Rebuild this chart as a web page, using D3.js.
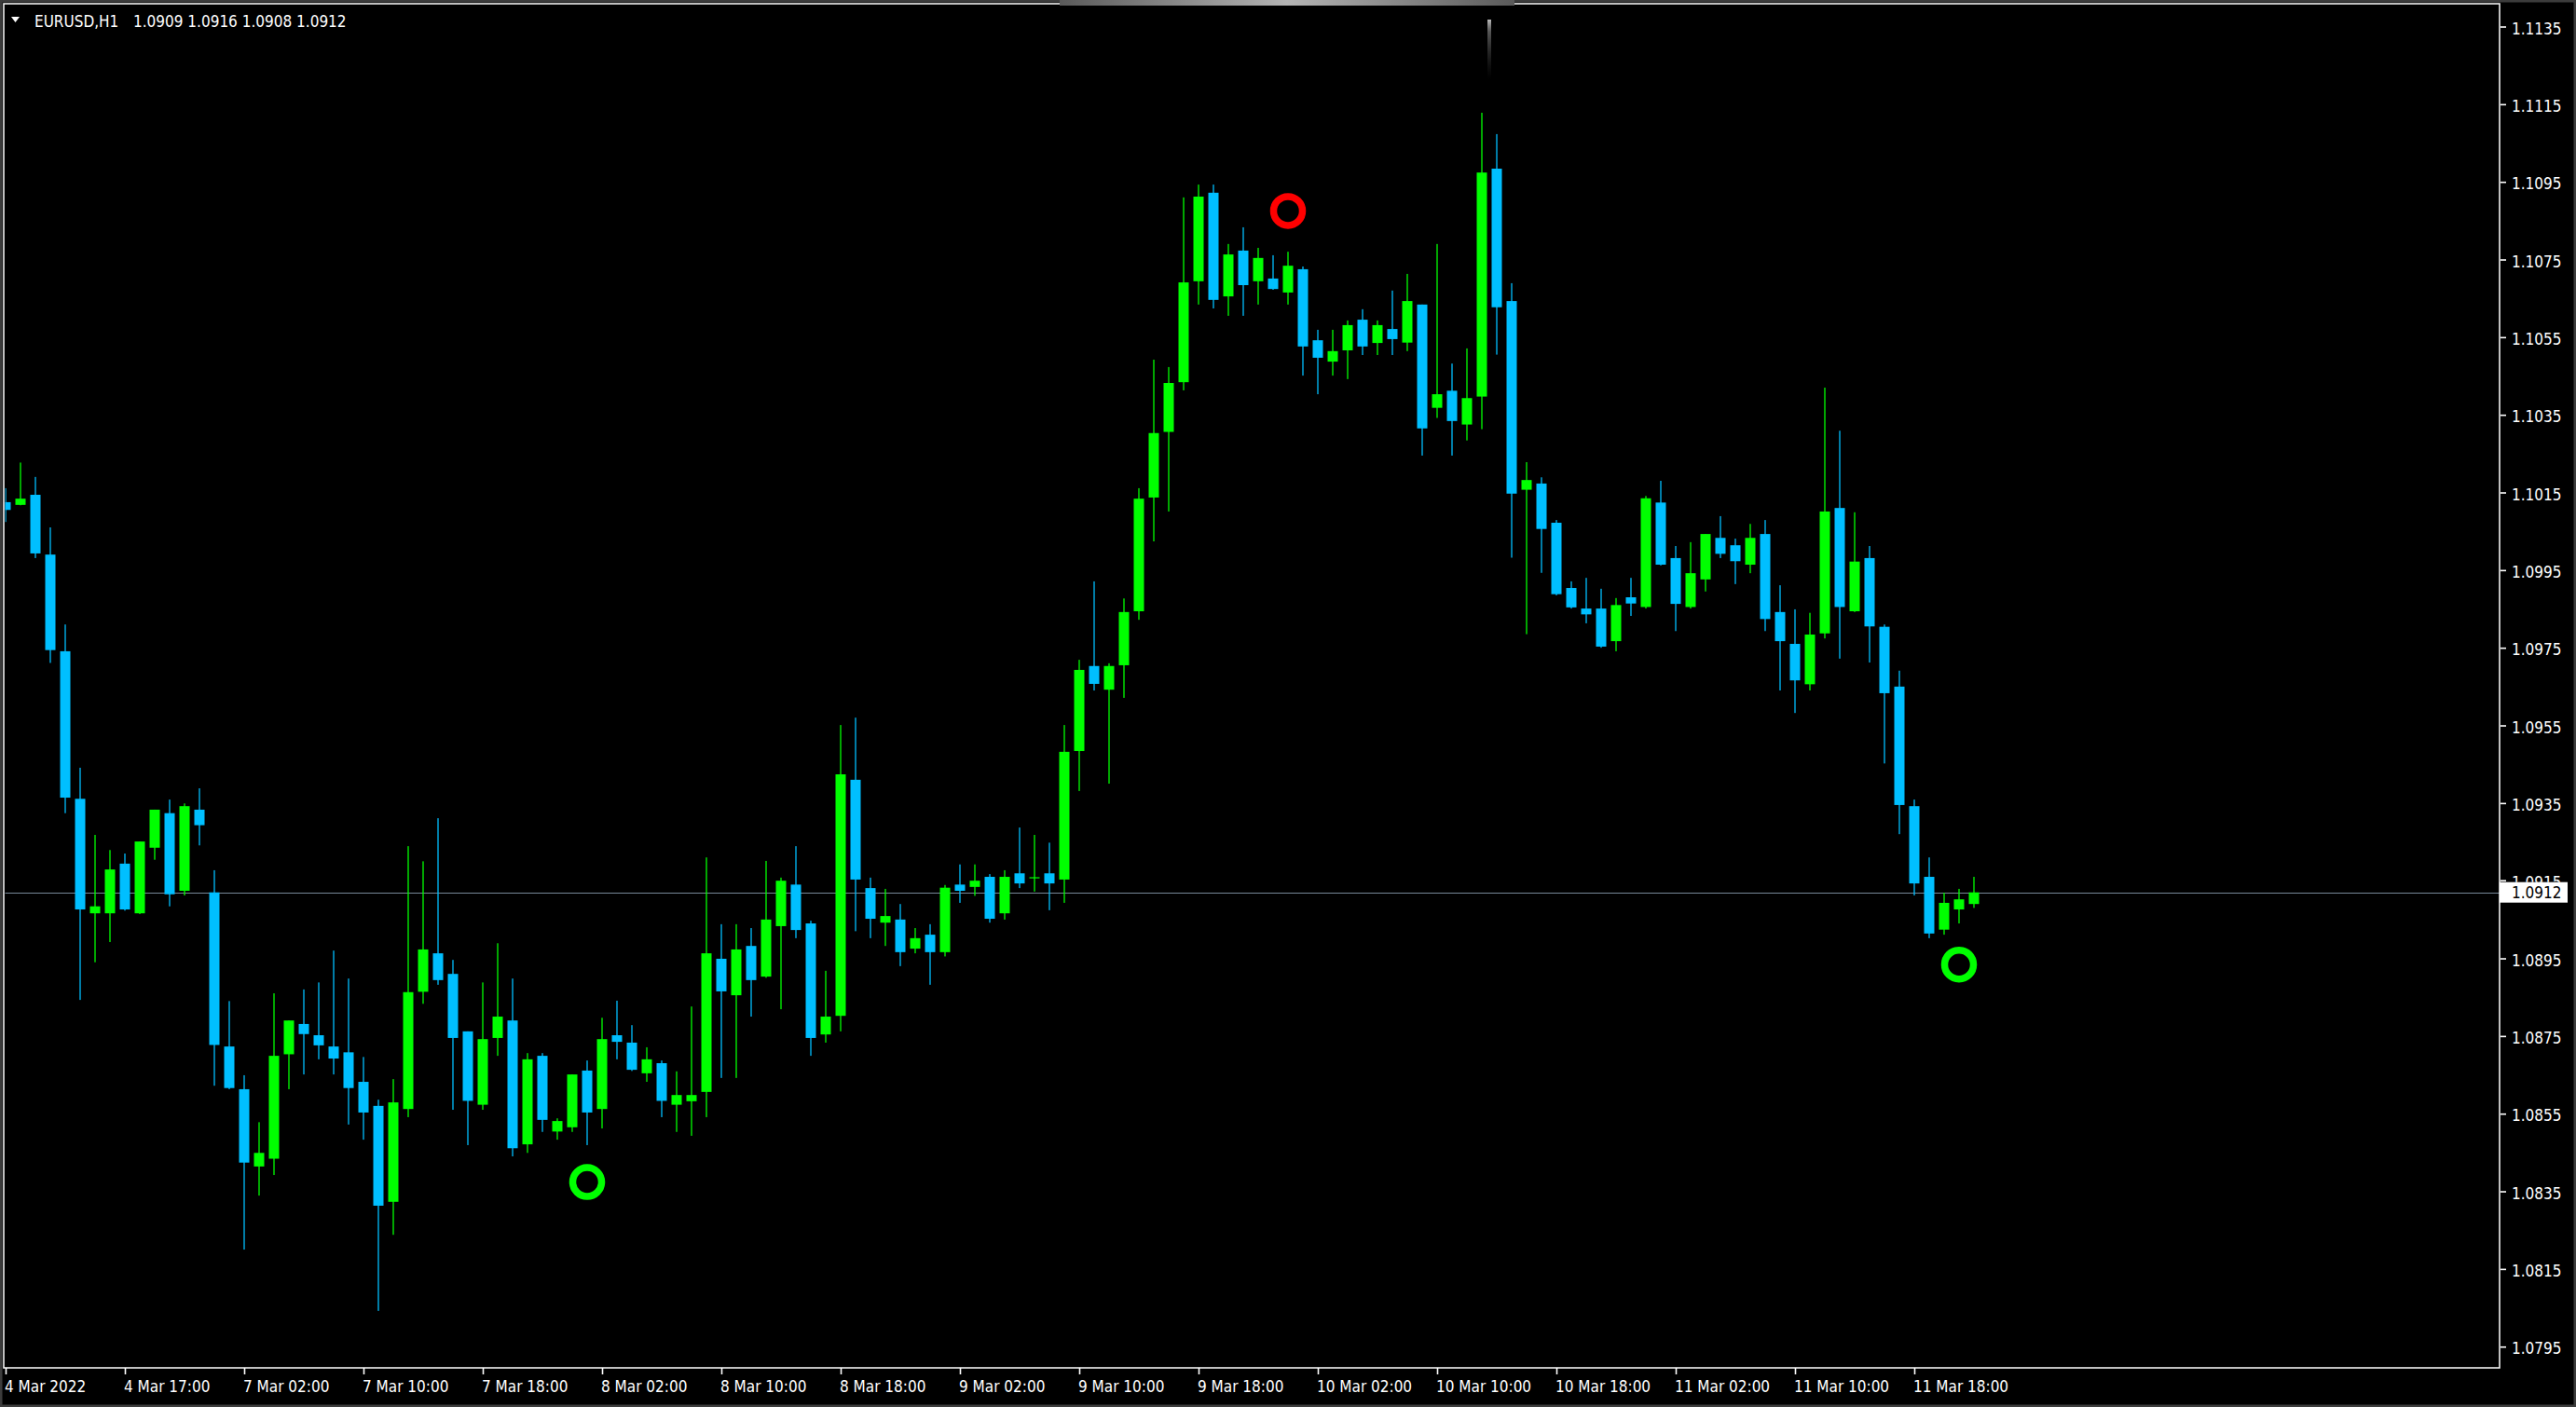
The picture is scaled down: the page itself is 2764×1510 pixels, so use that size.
<!DOCTYPE html>
<html>
<head>
<meta charset="utf-8">
<script src="https://cdn.jsdelivr.net/npm/d3@7"></script>
<style>
  body { margin: 0; background: #000; overflow: hidden; }
  svg { display: block; }
</style>
</head>
<body>
<svg id="chart"></svg>
<script>
// EURUSD H1, 4 Mar 2022 09:00 .. 11 Mar 22:00 (one value per hourly bar)
const open = [1.10125, 1.10118, 1.10144, 1.09990, 1.09741, 1.09361, 1.09066, 1.09066, 1.09194, 1.09066,
  1.09235, 1.09324, 1.09124, 1.09333, 1.09120, 1.08723, 1.08613, 1.08414, 1.08434, 1.08703,
  1.08781, 1.08752, 1.08723, 1.08708, 1.08632, 1.08570, 1.08323, 1.08562, 1.08864, 1.08963,
  1.08910, 1.08762, 1.08573, 1.08745, 1.08790, 1.08471, 1.08699, 1.08504, 1.08515, 1.08661,
  1.08562, 1.08752, 1.08733, 1.08654, 1.08680, 1.08573, 1.08582, 1.08606, 1.08949, 1.08855,
  1.08982, 1.08903, 1.09033, 1.09140, 1.09040, 1.08754, 1.08802, 1.09410, 1.09131, 1.09042,
  1.09050, 1.08975, 1.09011, 1.08966, 1.09140, 1.09134, 1.09160, 1.09066, 1.09169, 1.09157,
  1.09169, 1.09153, 1.09484, 1.09703, 1.09642, 1.09705, 1.09844, 1.10137, 1.10306, 1.10434,
  1.10694, 1.10922, 1.10655, 1.10773, 1.10694, 1.10701, 1.10665, 1.10725, 1.10542, 1.10487,
  1.10516, 1.10595, 1.10535, 1.10571, 1.10536, 1.10634, 1.10368, 1.10412, 1.10325, 1.10397,
  1.10984, 1.10643, 1.10157, 1.10173, 1.10072, 1.09904, 1.09851, 1.09851, 1.09767, 1.09880,
  1.09855, 1.10124, 1.09981, 1.09855, 1.09926, 1.10033, 1.10014, 1.09964, 1.10043, 1.09842,
  1.09760, 1.09656, 1.09787, 1.10110, 1.09844, 1.09981, 1.09804, 1.09650, 1.09342, 1.09160,
  1.09024, 1.09076, 1.0909]

const high = [1.10161, 1.10227, 1.10190, 1.10060, 1.09810, 1.09441, 1.09268, 1.09229, 1.09220, 1.09251,
  1.09333, 1.09359, 1.09349, 1.09388, 1.09177, 1.08840, 1.08649, 1.08528, 1.08860, 1.08790,
  1.08870, 1.08888, 1.08970, 1.08898, 1.08696, 1.08586, 1.08639, 1.09239, 1.09200, 1.09311,
  1.08946, 1.08762, 1.08888, 1.08989, 1.08898, 1.08706, 1.08706, 1.08538, 1.08651, 1.08687,
  1.08797, 1.08841, 1.08778, 1.08721, 1.08687, 1.08659, 1.08826, 1.09210, 1.09038, 1.09038,
  1.09028, 1.09201, 1.09158, 1.09239, 1.09047, 1.08918, 1.09551, 1.09570, 1.09158, 1.09129,
  1.09090, 1.09028, 1.09038, 1.09139, 1.09192, 1.09192, 1.09167, 1.09177, 1.09287, 1.09268,
  1.09248, 1.09551, 1.09719, 1.09921, 1.09710, 1.09877, 1.10161, 1.10492, 1.10473, 1.10910,
  1.10943, 1.10943, 1.10790, 1.10833, 1.10780, 1.10761, 1.10770, 1.10732, 1.10569, 1.10569,
  1.10593, 1.10622, 1.10593, 1.10670, 1.10713, 1.10634, 1.10790, 1.10482, 1.10521, 1.11128,
  1.11073, 1.10689, 1.10228, 1.10189, 1.10079, 1.09921, 1.09930, 1.09902, 1.09878, 1.09930,
  1.10141, 1.10180, 1.10012, 1.10022, 1.10043, 1.10089, 1.10031, 1.10069, 1.10079, 1.09911,
  1.09849, 1.09840, 1.10420, 1.10309, 1.10099, 1.10012, 1.09810, 1.09691, 1.09359, 1.09210,
  1.09119, 1.09129, 1.0916]

const low = [1.10074, 1.10117, 1.09981, 1.09711, 1.09324, 1.08843, 1.08940, 1.08992, 1.09073, 1.09064,
  1.09204, 1.09084, 1.09112, 1.09241, 1.08622, 1.08613, 1.08200, 1.08339, 1.08392, 1.08613,
  1.08651, 1.08690, 1.08651, 1.08522, 1.08483, 1.08042, 1.08238, 1.08541, 1.08833, 1.08882,
  1.08560, 1.08469, 1.08560, 1.08699, 1.08440, 1.08449, 1.08503, 1.08483, 1.08503, 1.08469,
  1.08512, 1.08690, 1.08660, 1.08632, 1.08541, 1.08503, 1.08493, 1.08541, 1.08642, 1.08642,
  1.08800, 1.08900, 1.08819, 1.09002, 1.08699, 1.08733, 1.08762, 1.09020, 1.09002, 1.08982,
  1.08930, 1.08963, 1.08882, 1.08955, 1.09093, 1.09111, 1.09042, 1.09050, 1.09131, 1.09122,
  1.09074, 1.09093, 1.09381, 1.09640, 1.09400, 1.09621, 1.09822, 1.10024, 1.10101, 1.10413,
  1.10634, 1.10624, 1.10605, 1.10605, 1.10634, 1.10672, 1.10634, 1.10451, 1.10403, 1.10451,
  1.10442, 1.10504, 1.10504, 1.10504, 1.10514, 1.10245, 1.10342, 1.10245, 1.10284, 1.10313,
  1.10505, 1.09982, 1.09785, 1.09943, 1.09885, 1.09851, 1.09813, 1.09750, 1.09741, 1.09832,
  1.09851, 1.09962, 1.09793, 1.09851, 1.09895, 1.09981, 1.09914, 1.09942, 1.09793, 1.09640,
  1.09582, 1.09640, 1.09774, 1.09722, 1.09842, 1.09712, 1.09452, 1.09270, 1.09112, 1.09002,
  1.09011, 1.09040, 1.0908]

const close = [1.10105, 1.10134, 1.09993, 1.09744, 1.09364, 1.09076, 1.09084, 1.09179, 1.09076, 1.09251,
  1.09333, 1.09115, 1.09342, 1.09293, 1.08727, 1.08616, 1.08424, 1.08449, 1.08699, 1.08790,
  1.08755, 1.08726, 1.08692, 1.08616, 1.08553, 1.08313, 1.08579, 1.08863, 1.08973, 1.08894,
  1.08745, 1.08583, 1.08742, 1.08800, 1.08461, 1.08690, 1.08534, 1.08531, 1.08651, 1.08553,
  1.08742, 1.08735, 1.08663, 1.08690, 1.08583, 1.08598, 1.08598, 1.08963, 1.08865, 1.08973,
  1.08894, 1.09050, 1.09150, 1.09023, 1.08745, 1.08800, 1.09424, 1.09153, 1.09052, 1.09059,
  1.08966, 1.09002, 1.08966, 1.09132, 1.09124, 1.09150, 1.09052, 1.09160, 1.09143, 1.09159,
  1.09143, 1.09482, 1.09693, 1.09657, 1.09703, 1.09842, 1.10134, 1.10303, 1.10432, 1.10691,
  1.10912, 1.10646, 1.10763, 1.10684, 1.10754, 1.10674, 1.10734, 1.10526, 1.10497, 1.10514,
  1.10581, 1.10526, 1.10581, 1.10545, 1.10643, 1.10315, 1.10403, 1.10334, 1.10393, 1.10974,
  1.10627, 1.10147, 1.10182, 1.10056, 1.09888, 1.09854, 1.09836, 1.09753, 1.09860, 1.09864,
  1.10135, 1.09964, 1.09863, 1.09942, 1.10043, 1.09992, 1.09973, 1.10033, 1.09824, 1.09767,
  1.09666, 1.09784, 1.10101, 1.09855, 1.09972, 1.09805, 1.09633, 1.09345, 1.09143, 1.09014,
  1.09093, 1.09102, 1.0912]

// time labels, one every 8 bars
const timeLabels = ["4 Mar 2022", "4 Mar 17:00", "7 Mar 02:00", "7 Mar 10:00", "7 Mar 18:00",
  "8 Mar 02:00", "8 Mar 10:00", "8 Mar 18:00", "9 Mar 02:00", "9 Mar 10:00", "9 Mar 18:00",
  "10 Mar 02:00", "10 Mar 10:00", "10 Mar 18:00", "11 Mar 02:00", "11 Mar 10:00", "11 Mar 18:00"]

const priceTicks = [1.1135, 1.1115, 1.1095, 1.1075, 1.1055, 1.1035, 1.1015, 1.0995, 1.0975,
  1.0955, 1.0935, 1.0915, 1.0895, 1.0875, 1.0855, 1.0835, 1.0815, 1.0795]

// ring markers drawn by the indicator
const signalBars = [39, 86, 131]
const signalPrices = [1.08374, 1.10875, 1.08934]
const signalColors = ["#00ff00", "#ff0000", "#00ff00"]

const symbolText = "EURUSD,H1"
const lastBar = open.length - 1

var W = 2764
var H = 1510
var plot = { left: 4, top: 4, right: 2682, bottom: 1468 }
var labelFont = '"DejaVu Sans Condensed", "DejaVu Sans", sans-serif'

var svg = d3.select("#chart")
  .attr("width", W)
  .attr("height", H)
  .style("background", "#000")

var x = d3.scaleLinear()
  .domain([0, lastBar])
  .range([6, 6 + 16 * lastBar])

var y = d3.scaleLinear()
  .domain([1.0795, 1.1135])
  .range([1445.2, 28.5])

var bidY = y(close[lastBar])

// outer window frame
svg.append("rect")
  .attr("x", 0).attr("y", 0)
  .attr("width", W).attr("height", H)
  .attr("fill", "none")
  .attr("stroke", "#3c3c3c")
  .attr("stroke-width", 5)

var defs = svg.append("defs")
defs.append("clipPath")
  .attr("id", "plotClip")
  .append("rect")
  .attr("x", 5.5)
  .attr("y", plot.top + 1)
  .attr("width", plot.right - 5.5)
  .attr("height", plot.bottom - plot.top - 1)

// the price box hides the lower part of the nearest tick label
defs.append("clipPath")
  .attr("id", "aboveBox")
  .append("rect")
  .attr("x", plot.right).attr("y", 0)
  .attr("width", W - plot.right)
  .attr("height", bidY - 11)

var g = svg.append("g").attr("clip-path", "url(#plotClip)")

// bid line
g.append("line")
  .attr("x1", plot.left).attr("x2", plot.right)
  .attr("y1", Math.round(bidY) + 0.5)
  .attr("y2", Math.round(bidY) + 0.5)
  .attr("stroke", "#778899")
  .attr("stroke-width", 1.2)

var bars = d3.range(open.length)

function barColor(i) {
  return close[i] > open[i] ? "#00ff00" : "#00bfff"
}

// wicks
g.selectAll(".wick")
  .data(bars)
  .enter()
  .append("rect")
  .attr("class", "wick")
  .attr("x", function(i) { return x(i) - 0.65 })
  .attr("width", 1.3)
  .attr("y", function(i) { return y(high[i]) })
  .attr("height", function(i) { return Math.max(1, y(low[i]) - y(high[i])) })
  .attr("fill", barColor)

// bodies
g.selectAll(".body")
  .data(bars)
  .enter()
  .append("rect")
  .attr("class", "body")
  .attr("x", function(i) { return x(i) - 5.5 })
  .attr("width", 11)
  .attr("y", function(i) { return y(Math.max(open[i], close[i])) })
  .attr("height", function(i) { return Math.max(1.2, Math.abs(y(open[i]) - y(close[i]))) })
  .attr("fill", barColor)

// ring markers
g.selectAll(".ring")
  .data(signalBars)
  .enter()
  .append("circle")
  .attr("class", "ring")
  .attr("cx", function(d) { return x(d) })
  .attr("cy", function(d, i) { return y(signalPrices[i]) })
  .attr("r", 15.5)
  .attr("fill", "none")
  .attr("stroke", function(d, i) { return signalColors[i] })
  .attr("stroke-width", 7.5)

// plot border
svg.append("rect")
  .attr("x", plot.left).attr("y", plot.top)
  .attr("width", plot.right - plot.left)
  .attr("height", plot.bottom - plot.top)
  .attr("fill", "none")
  .attr("stroke", "#fff")
  .attr("stroke-width", 1.5)

// price axis
var yAxis = d3.axisRight(y)
  .tickValues(priceTicks)
  .tickSize(6)
  .tickPadding(6)
  .tickFormat(d3.format(".4f"))

var yg = svg.append("g")
  .attr("transform", "translate(" + (plot.right + 1) + ",0)")
  .call(yAxis)
yg.select(".domain").remove()
yg.selectAll("line").attr("stroke", "#fff").attr("stroke-width", 1.6)
yg.selectAll("text")
  .attr("fill", "#fff")
  .attr("dy", "0.45em")
  .style("font-family", labelFont)
  .style("font-stretch", "condensed")
  .style("font-size", "17px")

// tick labels that run into the price box keep only their visible top part
yg.selectAll(".tick")
  .filter(function(d) { return Math.abs(y(d) - bidY) < 20 })
  .attr("clip-path", "url(#aboveBox)")
  .attr("transform", function(d) { return "translate(0," + y(d) + ")" })
  .each(function(d) {
    // clip rect is in the parent's space, shift it by the tick offset
    d3.select(this).attr("clip-path", null)
    var t = d3.select(this).select("text")
    var cid = "tickClip" + Math.round(d * 10000)
    defs.append("clipPath")
      .attr("id", cid)
      .append("rect")
      .attr("x", -10).attr("y", -30)
      .attr("width", 100)
      .attr("height", (bidY - 11) - y(d) + 30)
    t.attr("clip-path", "url(#" + cid + ")")
  })

// time axis
var xAxis = d3.axisBottom(x)
  .tickValues(d3.range(0, lastBar + 1, 8))
  .tickSize(7)
  .tickFormat(function(d, i) { return timeLabels[i] })

var xg = svg.append("g")
  .attr("transform", "translate(0," + plot.bottom + ")")
  .call(xAxis)
xg.select(".domain").remove()
xg.selectAll("line").attr("stroke", "#fff").attr("stroke-width", 1.6)
xg.selectAll("text")
  .attr("fill", "#fff")
  .attr("text-anchor", "start")
  .attr("x", -1.5)
  .attr("y", 14)
  .attr("dy", "0.71em")
  .style("font-family", labelFont)
  .style("font-stretch", "condensed")
  .style("font-size", "17px")

// current price box
svg.append("rect")
  .attr("x", plot.right).attr("y", bidY - 11)
  .attr("width", 73).attr("height", 22)
  .attr("fill", "#fff")
svg.append("text")
  .attr("x", plot.right + 13)
  .attr("y", bidY)
  .attr("dy", "0.38em")
  .attr("fill", "#000")
  .style("font-family", labelFont)
  .style("font-stretch", "condensed")
  .style("font-size", "17px")
  .text(d3.format(".4f")(close[lastBar]))

// header: symbol and last bar OHLC
svg.append("path")
  .attr("d", "M12,18L21,18L16.5,24Z")
  .attr("fill", "#fff")
svg.append("text")
  .attr("x", 37).attr("y", 28.5)
  .attr("fill", "#fff")
  .style("font-family", labelFont)
  .style("font-stretch", "condensed")
  .style("font-size", "17px")
  .text(symbolText)
svg.append("text")
  .attr("x", 143).attr("y", 28.5)
  .attr("fill", "#fff")
  .style("font-family", labelFont)
  .style("font-stretch", "condensed")
  .style("font-size", "17px")
  .text([open[lastBar], high[lastBar], low[lastBar], close[lastBar]].map(d3.format(".4f")).join(" "))

// faded panel handle at the top edge
var hg = defs.append("linearGradient").attr("id", "handleGrad")
hg.append("stop").attr("offset", "0%").attr("stop-color", "#5a5a5a")
hg.append("stop").attr("offset", "50%").attr("stop-color", "#b4b4b4")
hg.append("stop").attr("offset", "100%").attr("stop-color", "#5a5a5a")
svg.append("rect")
  .attr("x", 1137).attr("y", 0)
  .attr("width", 488).attr("height", 6)
  .attr("fill", "url(#handleGrad)")

var vg = defs.append("linearGradient").attr("id", "smudgeGrad")
  .attr("x1", 0).attr("x2", 0).attr("y1", 0).attr("y2", 1)
vg.append("stop").attr("offset", "0%").attr("stop-color", "#d0d0d0").attr("stop-opacity", 0.9)
vg.append("stop").attr("offset", "20%").attr("stop-color", "#909090").attr("stop-opacity", 0.6)
vg.append("stop").attr("offset", "100%").attr("stop-color", "#404040").attr("stop-opacity", 0)
svg.append("rect")
  .attr("x", 1596).attr("y", 21)
  .attr("width", 4).attr("height", 64)
  .attr("fill", "url(#smudgeGrad)")
</script>
</body>
</html>
